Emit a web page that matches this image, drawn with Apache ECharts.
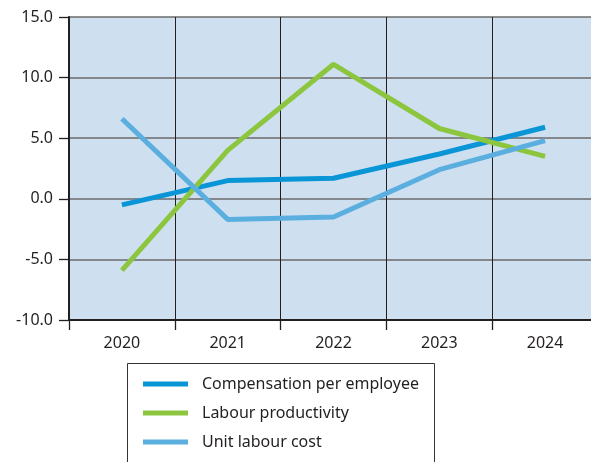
<!DOCTYPE html>
<html>
<head>
<meta charset="utf-8">
<script src="https://cdn.jsdelivr.net/npm/echarts@6/dist/echarts.min.js"></script>
<style>html,body{margin:0;padding:0;background:#fff;overflow:hidden}#c{width:598px;height:462px}</style>
</head>
<body>
<div id="c"></div>
<script>
const years = ['2020', '2021', '2022', '2023', '2024'];
const compensation = [-0.5, 1.5, 1.7, 3.7, 5.9];
const productivity = [-5.9, 4.0, 11.1, 5.8, 3.5];
const unitLabourCost = [6.6, -1.7, -1.5, 2.4, 4.8];
const seriesNames = ['Compensation per employee', 'Labour productivity', 'Unit labour cost'];
const yTicks = { min: -10, max: 15, interval: 5 };

const font = '"Noto Sans", sans-serif';
const chart = echarts.init(document.getElementById('c'), null, { renderer: 'canvas' });
const colors = ['#0a96d6', '#8cc63e', '#5aafdf'];
const dataSets = [compensation, productivity, unitLabourCost];

chart.setOption({
  animation: false,
  grid: { left: 69, top: 17, right: 0, bottom: 142, show: true, backgroundColor: '#cedff0', borderWidth: 0 },
  graphic: [{
    type: 'rect', silent: true,
    shape: { x: 127.5, y: 363.5, width: 307, height: 120 },
    style: { fill: 'none', stroke: '#333', lineWidth: 1 }
  }],
  legend: {
    orient: 'vertical', left: 143, top: 376,
    padding: 0, itemGap: 13,
    icon: 'rect', itemWidth: 45, itemHeight: 5,
    textStyle: { fontFamily: font, fontSize: 16, color: '#231f20', padding: [0, 0, 0, 9] },
    data: seriesNames
  },
  xAxis: {
    type: 'category', data: years,
    axisLine: { onZero: false, lineStyle: { color: '#231f20', width: 2 } },
    axisTick: { show: true, length: 10, lineStyle: { color: '#231f20', width: 1.3 } },
    axisLabel: { fontFamily: font, fontSize: 16, color: '#231f20', margin: 15 },
    splitLine: { show: true, lineStyle: { color: '#231f20', width: 1 } }
  },
  yAxis: {
    type: 'value', min: yTicks.min, max: yTicks.max, interval: yTicks.interval,
    axisLine: { show: true, lineStyle: { color: '#231f20', width: 2 } },
    axisTick: { show: true, length: 10, lineStyle: { color: '#231f20', width: 1.3 } },
    axisLabel: { fontFamily: font, fontSize: 16, color: '#231f20', margin: 16, formatter: v => v.toFixed(1) },
    splitLine: { show: true, lineStyle: { color: '#6b6b6b', width: 1.5 } }
  },
  series: seriesNames.map((n, i) => ({
    name: n, type: 'line', data: dataSets[i], symbol: 'none',
    lineStyle: { color: colors[i], width: 5, cap: 'butt' },
    itemStyle: { color: colors[i] }
  }))
});
</script>
</body>
</html>
